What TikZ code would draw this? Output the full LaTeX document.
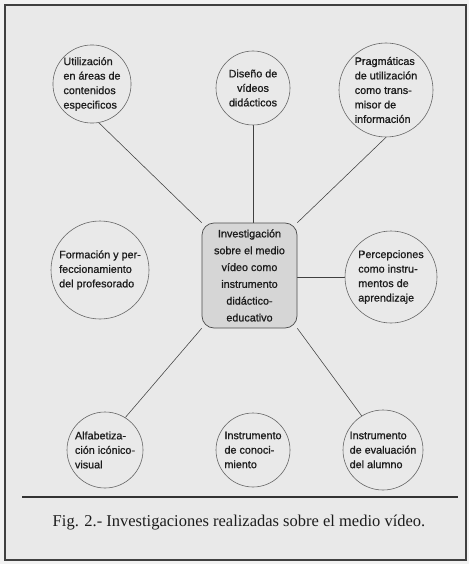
\documentclass[tikz,border=0pt]{standalone}
\usepackage{fontspec}
\setmainfont{Liberation Sans}
\newfontfamily\nodefont{Liberation Sans}[FakeBold=0.9]
\newfontfamily\capfont{Liberation Serif}
\usetikzlibrary{backgrounds}
\definecolor{bgc}{HTML}{E9E9E9}
\definecolor{boxc}{HTML}{D6D6D6}
\definecolor{inkc}{HTML}{1C1C1C}
\begin{document}
\begin{tikzpicture}[x=1pt,y=-1pt,
  bub/.style={circle,draw=black!60,line width=0.6pt,fill=bgc,inner sep=0pt,align=left,
    text=inkc,font=\nodefont\fontsize{10.8}{14.5}\selectfont},
  cbox/.style={rectangle,rounded corners=12pt,draw=black!70,line width=0.7pt,fill=boxc,
    align=center,text=inkc,font=\nodefont\fontsize{10.8}{16.8}\selectfont,
    minimum width=95pt,minimum height=105pt,inner sep=0pt},
  conn/.style={draw=black!75,line width=0.55pt},
  frame/.style={draw=black!75,line width=1.3pt}]
\useasboundingbox (0,0) rectangle (469,564);
% nodes
\node[cbox] (box) at (249.5,275.5) {Investigación\\sobre el medio\\vídeo como\\instrumento\\didáctico-\\educativo};
\node[bub,minimum size=78pt] (utl) at (92,84) {Utilización\\en áreas de\\contenidos\\especificos};
\node[bub,minimum size=74pt,align=center] (dis) at (253,88) {Diseño de\\vídeos\\didácticos};
\node[bub,minimum size=94pt] (prag) at (386,90) {Pragmáticas\\de utilización\\como trans-\\misor de\\información};
\node[bub,minimum size=98pt] (form) at (100,270) {Formación y per-\\feccionamiento\\del profesorado};
\node[bub,minimum size=92pt] (perc) at (391,277) {Percepciones\\como instru-\\mentos de\\aprendizaje};
\node[bub,minimum size=76pt] (alf) at (105,450) {Alfabetiza-\\ción icónico-\\visual};
\node[bub,minimum size=74pt] (con) at (253,450) {Instrumento\\de conoci-\\miento};
\node[bub,minimum size=80pt] (eval) at (383,450) {Instrumento\\de evaluación\\del alumno};
\coordinate (fr1) at (5,5);
\coordinate (fr2) at (466,560);
\coordinate (r1) at (22,497);
\coordinate (r2) at (458,497);
\node[font=\capfont\fontsize{16.5}{18}\selectfont,text=inkc] (cap) at (239,523) {Fig. 2.- Investigaciones realizadas sobre el medio vídeo.};
\begin{scope}[on background layer]
  \fill[white!95!black] (0,0) rectangle (469,564);
  \fill[bgc] (fr1) rectangle (fr2);
  \draw[conn] (utl.-80) -- (box.north west);
  \draw[conn] (dis.south) -- (dis.south |- box.north);
  \draw[conn] (prag.-90) -- (box.north east);
  \draw[conn] (perc.west -| box.east) -- (perc.west);
  \draw[conn] (box.south west) -- (alf.58);
  \draw[conn] (box.south east) -- (eval.122);
\end{scope}
\draw[frame] (fr1) rectangle (fr2);
\draw[black!80,line width=1.5pt] (r1) -- (r2);
\end{tikzpicture}
\end{document}
